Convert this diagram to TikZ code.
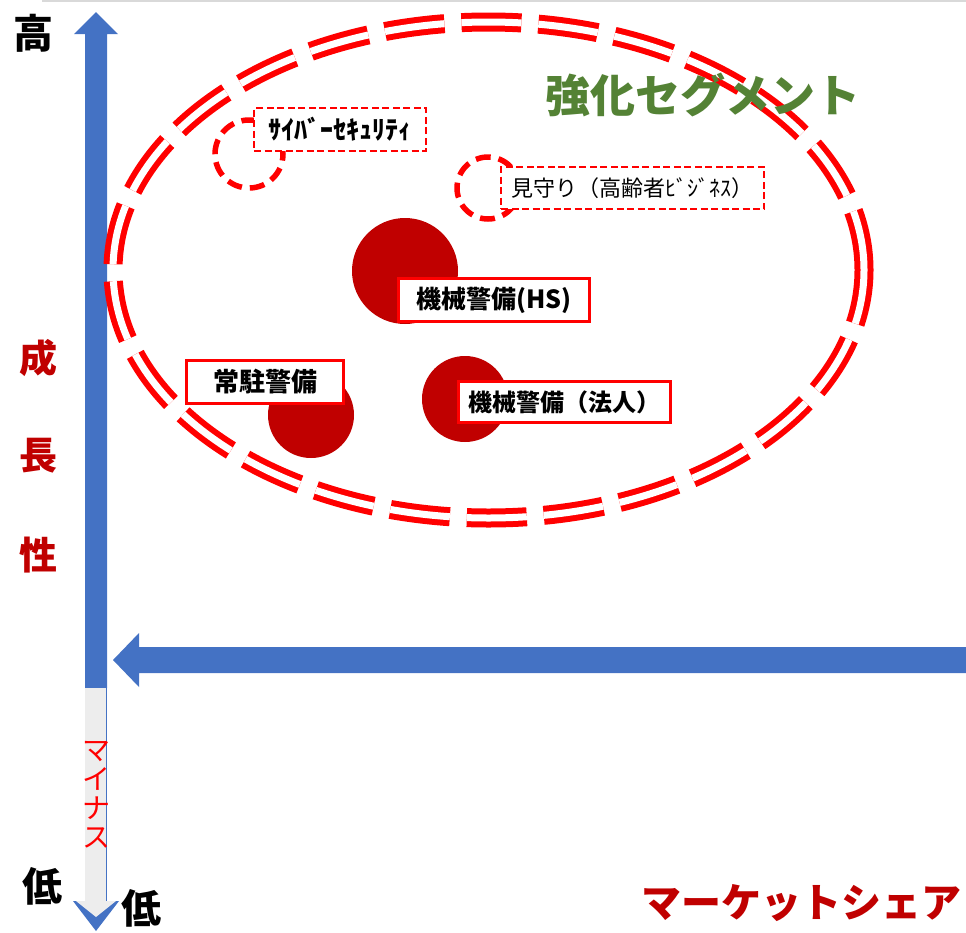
\documentclass[tikz,border=0pt]{standalone}
\usepackage{fontspec}
\setmainfont{Noto Sans CJK JP}
\usetikzlibrary{shapes.geometric}
\definecolor{axisblue}{HTML}{4472C4}
\definecolor{darkred}{HTML}{C00000}
\definecolor{segred}{HTML}{FF0000}
\definecolor{seggreen}{HTML}{548235}
\definecolor{shaftgray}{HTML}{EDEDED}
\definecolor{topline}{HTML}{D9D9D9}
\newcommand{\fsz}[1]{\fontsize{#1}{#1}\selectfont}
\tikzset{
  blob/.style={circle, fill=darkred, inner sep=0pt, minimum size=#1},
  solidbox/.style={draw=segred, line width=3pt, fill=white, inner sep=0pt, text=black},
  dashbox/.style={draw=segred, line width=2.5pt, dash pattern=on 7pt off 3.5pt, fill=white, inner sep=0pt, text=black},
  dashring/.style={circle, draw=segred, line width=5.5pt, dash pattern=on 15pt off 8pt, inner sep=0pt, minimum size=#1},
  axislabel/.style={font=\fsz{40}\bfseries, text=black, inner sep=0pt},
  growthlabel/.style={font=\fsz{38}\bfseries, text=darkred, inner sep=0pt},
}
\begin{document}
\begin{tikzpicture}[x=1pt,y=-1pt]
\useasboundingbox (0,0) rectangle (966,932);
% faint top line
\draw[topline, line width=1.5pt] (42,1) -- (966,1);
% vertical axis arrow
\fill[axisblue] (85,688) -- (85,34) -- (74,34) -- (96,12) -- (118,34) -- (107,34) -- (107,688) -- cycle;
\fill[shaftgray] (85,688) rectangle (107,901);
\draw[axisblue, line width=1pt] (106.5,688) -- (106.5,901);
\fill[axisblue] (73,901) -- (119,901) -- (96,931) -- cycle;
\fill[shaftgray] (76,901) -- (116,901) -- (96,917) -- cycle;
% horizontal axis arrow
\fill[axisblue] (966,647) -- (139,647) -- (139,633) -- (113,660) -- (139,687) -- (139,673) -- (966,673) -- cycle;
% axis labels
\node[axislabel] (high) at (33,33) {高};
\node[axislabel] (lowleft) at (42,886) {低};
\node[axislabel] (lowright) at (141,908) {低};
\node[growthlabel] (g1) at (38,358) {成};
\node[growthlabel] (g2) at (38,456) {長};
\node[growthlabel] (g3) at (38,555) {性};
\node[font=\fsz{28}, text=segred, align=center, inner sep=0pt] (minus) at (96,795) {マ\\[1pt]イ\\[1pt]ナ\\[1pt]ス};
\node[font=\fsz{40}\bfseries, text=darkred, inner sep=0pt] (share) at (801,903) {マーケットシェア};
% strengthened segment ellipse
\node[ellipse, draw=segred, line width=6pt, double=white, double distance=7pt,
      dash pattern=on 60pt off 17pt, inner sep=0pt, minimum width=751pt, minimum height=496pt] (seg) at (488.5,270) {};
\node[font=\fsz{45}\bfseries, text=seggreen, inner sep=0pt] (segtitle) at (703,95) {強化セグメント};
% dashed future rings
\node[dashring=68pt] (cyring) at (249,154) {};
\node[dashring=62pt] (mring) at (488,188) {};
% solid blobs
\node[blob=106pt] (hsblob) at (405,271) {};
\node[blob=86pt] (hjblob) at (465,399) {};
\node[blob=86pt] (jcblob) at (311,415) {};
% label boxes
\node[dashbox, minimum width=172pt, minimum height=43pt, font=\fsz{26}\bfseries] (cybox) at (340,129.5) {ｻｲﾊﾞｰｾｷｭﾘﾃｨ};
\node[dashbox, minimum width=263pt, minimum height=42pt, font=\fsz{22}] (mbox) at (632.5,188) {見守り（高齢者ﾋﾞｼﾞﾈｽ）};
\node[solidbox, minimum width=191pt, minimum height=43pt, font=\fsz{25}\bfseries] (hsbox) at (494,300) {機械警備(HS)};
\node[solidbox, minimum width=212pt, minimum height=41pt, font=\fsz{24}\bfseries] (hjbox) at (564.5,402) {機械警備（法人）};
\node[solidbox, minimum width=157pt, minimum height=43pt, font=\fsz{26}\bfseries] (jcbox) at (265,382) {常駐警備};
\end{tikzpicture}
\end{document}
